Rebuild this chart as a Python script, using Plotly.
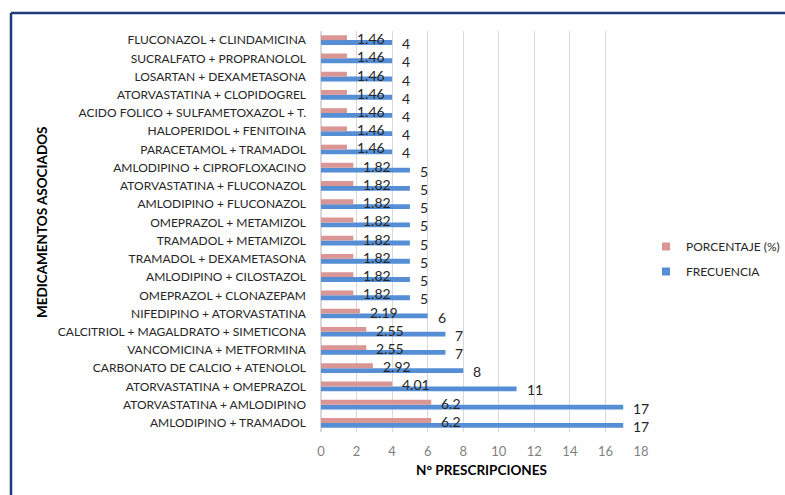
import plotly.graph_objects as go

# Drug combinations, listed bottom-to-top as they appear on the axis
combinaciones = [
    "AMLODIPINO + TRAMADOL",
    "ATORVASTATINA + AMLODIPINO",
    "ATORVASTATINA + OMEPRAZOL",
    "CARBONATO DE CALCIO + ATENOLOL",
    "VANCOMICINA + METFORMINA",
    "CALCITRIOL + MAGALDRATO + SIMETICONA",
    "NIFEDIPINO + ATORVASTATINA",
    "OMEPRAZOL + CLONAZEPAM",
    "AMLODIPINO + CILOSTAZOL",
    "TRAMADOL + DEXAMETASONA",
    "TRAMADOL + METAMIZOL",
    "OMEPRAZOL + METAMIZOL",
    "AMLODIPINO + FLUCONAZOL",
    "ATORVASTATINA + FLUCONAZOL",
    "AMLODIPINO + CIPROFLOXACINO",
    "PARACETAMOL + TRAMADOL",
    "HALOPERIDOL + FENITOINA",
    "ACIDO FOLICO + SULFAMETOXAZOL + T.",
    "ATORVASTATINA + CLOPIDOGREL",
    "LOSARTAN + DEXAMETASONA",
    "SUCRALFATO + PROPRANOLOL",
    "FLUCONAZOL + CLINDAMICINA",
]

frecuencia = [17, 17, 11, 8, 7, 7, 6, 5, 5, 5, 5, 5, 5, 5, 5, 4, 4, 4, 4, 4, 4, 4]

porcentaje = [6.2, 6.2, 4.01, 2.92, 2.55, 2.55, 2.19, 1.82, 1.82, 1.82, 1.82, 1.82,
              1.82, 1.82, 1.82, 1.46, 1.46, 1.46, 1.46, 1.46, 1.46, 1.46]

x_ticks = list(range(0, 19, 2))

COLOR_FREC = "#558ED5"
COLOR_PORC = "#D99694"
FONT = "Lato"

# Plot-area geometry in pixels
W, H = 785, 495
PL, PR, PT, PB = 321, 641, 31, 432


def px_x(px):
    return (px - PL) / (PR - PL)


def px_y(py):
    return (PB - py) / (PB - PT)


fig = go.Figure()

# Frequency bar goes first so it sits below the percentage bar in each group
fig.add_trace(go.Bar(
    y=combinaciones, x=frecuencia, orientation="h",
    name="FRECUENCIA", marker=dict(color=COLOR_FREC, line=dict(width=0)),
    showlegend=False, hoverinfo="x+y",
))
fig.add_trace(go.Bar(
    y=combinaciones, x=porcentaje, orientation="h",
    name="PORCENTAJE (%)", marker=dict(color=COLOR_PORC, line=dict(width=0)),
    showlegend=False, hoverinfo="x+y",
))

# Legend entries with small square swatches
fig.add_trace(go.Scatter(
    x=[None], y=[None], mode="markers", name="PORCENTAJE (%)",
    marker=dict(symbol="square", size=8, color=COLOR_PORC),
    legendgroup="porc", legendrank=1,
))
fig.add_trace(go.Scatter(
    x=[None], y=[None], mode="markers", name="FRECUENCIA",
    marker=dict(symbol="square", size=8, color=COLOR_FREC),
    legendgroup="frec", legendrank=2,
))

# Value labels just past the end of each bar
annotations = []
for cat, v in zip(combinaciones, porcentaje):
    annotations.append(dict(
        x=v, y=cat, xref="x", yref="y", text=f"{v:g}", showarrow=False,
        xanchor="left", yanchor="middle", xshift=8, yshift=1.5,
        font=dict(family=FONT, size=14, color="#262626"),
    ))
for cat, v in zip(combinaciones, frecuencia):
    annotations.append(dict(
        x=v, y=cat, xref="x", yref="y", text=f"{v}", showarrow=False,
        xanchor="left", yanchor="middle", xshift=8, yshift=-3.5,
        font=dict(family=FONT, size=14, color="#262626"),
    ))

# Axis titles
annotations.append(dict(
    x=px_x(481), y=px_y(470), xref="paper", yref="paper",
    text="<b>N° PRESCRIPCIONES</b>", showarrow=False,
    xanchor="center", yanchor="middle",
    font=dict(family=FONT, size=13.5, color="#000000"),
))
annotations.append(dict(
    x=px_x(42), y=px_y(222), xref="paper", yref="paper",
    text="<b>MEDICAMENTOS ASOCIADOS</b>", showarrow=False, textangle=-90,
    xanchor="center", yanchor="middle",
    font=dict(family=FONT, size=13.5, color="#000000"),
))

# Navy frame along the left and top edges
frame_color = "#1F3B7A"
shapes = [
    dict(type="line", xref="paper", yref="paper",
         x0=px_x(11), x1=px_x(W + 5), y0=px_y(13), y1=px_y(13),
         line=dict(color=frame_color, width=2.5)),
    dict(type="line", xref="paper", yref="paper",
         x0=px_x(11), x1=px_x(11), y0=px_y(13), y1=px_y(H + 5),
         line=dict(color=frame_color, width=2.5)),
]

fig.update_layout(
    width=W, height=H,
    margin=dict(l=PL, r=W - PR, t=PT, b=H - PB, pad=0, autoexpand=False),
    paper_bgcolor="white", plot_bgcolor="white",
    barmode="group", bargap=0.47, bargroupgap=0,
    font=dict(family=FONT, size=12, color="#262626"),
    annotations=annotations, shapes=shapes,
    legend=dict(
        xref="container", yref="container",
        x=646 / W, y=1 - 232 / H, xanchor="left", yanchor="top",
        font=dict(family=FONT, size=12, color="#262626"),
        tracegroupgap=6, bgcolor="rgba(0,0,0,0)",
    ),
    xaxis=dict(
        range=[0, 18], tickvals=x_ticks, showgrid=True,
        gridcolor="#D9D9D9", gridwidth=1, zeroline=True, zerolinecolor="#D9D9D9",
        showline=False, ticks="", ticklabelstandoff=10,
        tickfont=dict(family=FONT, size=13, color="#7F7F7F"),
        fixedrange=True,
    ),
    yaxis=dict(
        type="category", categoryorder="array", categoryarray=combinaciones,
        range=[-0.5, len(combinaciones) - 0.5],
        showgrid=False, showline=False, ticks="", ticklabelstandoff=14,
        tickfont=dict(family=FONT, size=12, color="#262626"),
        fixedrange=True,
    ),
)

fig.write_html("out.html")
